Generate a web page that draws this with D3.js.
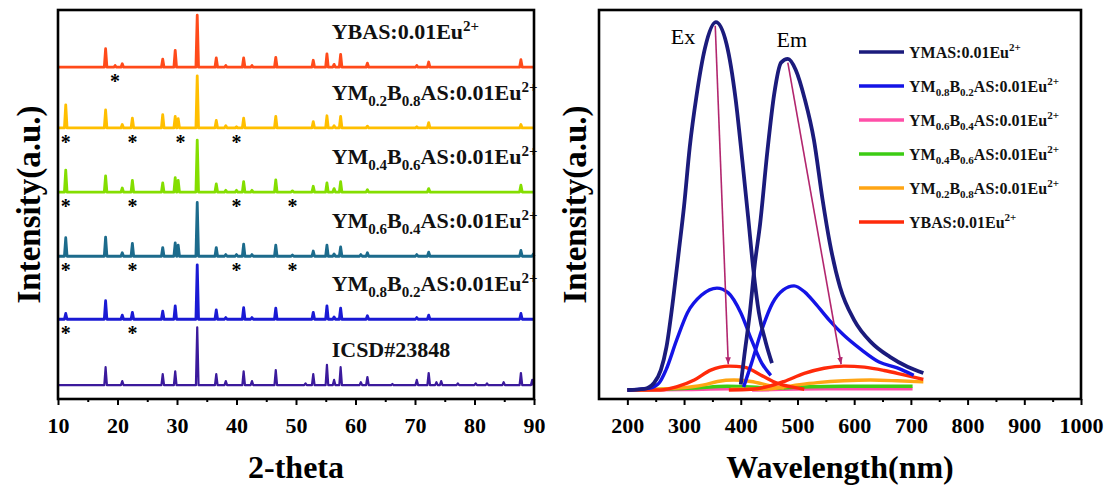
<!DOCTYPE html>
<html>
<head>
<meta charset="utf-8">
<script src="https://cdn.jsdelivr.net/npm/d3@7"></script>
<style>
  body { margin: 0; background: #fff; }
  svg { font-family: "Times New Roman", "Liberation Serif", serif; font-weight: bold; }
</style>
</head>
<body>
<div id="chart"></div>
<script>
// ---------- XRD peaks: [2-theta, relative intensity] ----------
const icsdPeaks = [[18.0,31],[20.8,7],[27.6,19],[29.7,24],[33.4,100],[36.6,19],[38.2,7],[41.2,24],[42.6,7],[46.6,26],[51.6,3],[52.9,19],[55.2,35],[56.4,9],[57.5,31],[60.9,5],[62.0,14],[66.2,2],[70.3,9],[72.3,21],[73.6,5],[74.4,7],[77.2,3],[80.2,3],[82.1,3],[84.9,5],[87.8,21],[89.7,9]];
const ym08Peaks = [[11.3,10],[18.0,32],[20.8,7],[22.5,12],[27.6,14],[29.7,23],[33.4,94],[36.6,16],[38.2,3],[41.2,20],[42.6,3],[46.6,19],[52.9,12],[55.2,23],[56.4,4],[57.5,19],[62.0,6],[70.3,3],[72.3,7],[87.8,10]];
const ym06Peaks = [[11.3,32],[18.0,33],[20.8,6],[22.5,22],[27.6,15],[29.7,23],[30.2,19],[33.4,93],[36.6,15],[38.2,3],[40.0,3],[41.2,21],[42.6,3],[46.6,19],[49.4,2],[52.9,9],[55.2,19],[56.4,4],[57.5,16],[60.9,3],[62.0,6],[70.3,3],[72.3,7],[87.8,10],[89.9,4]];
const ym04Peaks = [[11.3,38],[18.0,28],[20.8,7],[22.5,20],[27.6,16],[29.7,25],[30.2,20],[33.4,90],[36.6,14],[38.2,3],[40.0,3],[41.2,18],[42.6,3],[46.6,21],[49.4,2],[52.9,10],[55.2,16],[56.4,6],[57.5,18],[62.0,4],[72.3,6],[87.8,12]];
const ym02Peaks = [[11.3,40],[18.0,31],[20.8,6],[22.5,17],[27.6,23],[29.7,20],[30.2,16],[33.4,90],[36.6,13],[38.2,4],[40.0,2],[41.2,17],[46.6,20],[52.9,11],[55.2,21],[56.4,4],[57.5,20],[62.0,3],[70.3,2],[72.3,9],[87.8,6]];
const ybasPeaks = [[18.0,32],[19.6,3],[20.8,6],[27.6,14],[29.7,29],[33.4,90],[36.6,16],[38.2,3],[41.2,16],[42.6,3],[46.6,17],[52.9,12],[55.2,23],[56.4,5],[57.5,22],[62.0,7],[70.3,3],[72.3,9],[87.8,13]];

// impurity marks (*) per pattern
const icsdStars = [];
const ym08Stars = [11.3, 22.5];
const ym06Stars = [11.3, 22.5, 40.0, 49.4];
const ym04Stars = [11.3, 22.5, 40.0, 49.4];
const ym02Stars = [11.3, 22.5, 30.6, 40.0];
const ybasStars = [19.6];

// stacking offsets, bottom to top
const xrdOffsets = [0, 114, 223, 334, 445, 550];

const xrdLabels = [
  [["ICSD#23848"]],
  [["YM"],["0.8","sub"],["B"],["0.2","sub"],["AS:0.01Eu"],["2+","sup"]],
  [["YM"],["0.6","sub"],["B"],["0.4","sub"],["AS:0.01Eu"],["2+","sup"]],
  [["YM"],["0.4","sub"],["B"],["0.6","sub"],["AS:0.01Eu"],["2+","sup"]],
  [["YM"],["0.2","sub"],["B"],["0.8","sub"],["AS:0.01Eu"],["2+","sup"]],
  [["YBAS:0.01Eu"],["2+","sup"]]
];
const xrdColors = ["#3b1a9c", "#1a1ad4", "#1c6b8c", "#84de00", "#ffbf00", "#ff4a1a"];

// ---------- PL spectra: [wavelength nm, intensity] ----------
const ymasEx = [[200,0],[230,0.3],[247,1.9],[259,5.4],[269,11.7],[281,25],[291,38],[300,50],[310,66],[322,80],[337,93],[356,100],[375,94],[391,79],[403,62],[413,47],[422,33],[432,21],[444,13],[455,7.3]];
const ymasEm = [[400,1.5],[406,9],[416,21],[425,34.5],[434,45],[447,65],[459,80.5],[471,89],[483,90],[497,87],[513,79],[529,68],[544,52],[557,40],[575,28],[600,19],[631,12.8],[663,9],[694,6.3],[722,4.6]];
const ym08Ex = [[200,0],[240,0.5],[256,1.9],[268,5.4],[287,13.6],[306,21],[331,25.8],[358,27.7],[378,26.4],[400,21],[419,13.6],[437,7.3],[453,4]];
const ym08Em = [[405,0.8],[419,7.3],[437,16.3],[456,23.6],[475,27.2],[494,28.3],[513,26.6],[531,23.6],[556,19],[581,15],[613,10.9],[644,7.6],[676,6],[705,4]];
const ym06Ex = [[200,0],[300,0.1],[380,0.3],[450,0.1]];
const ym06Em = [[420,0],[550,0.3],[703,0.3]];
const ym04Ex = [[200,0],[318,0.5],[376,1.0],[418,0.8],[453,0.4]];
const ym04Em = [[406,0.2],[465,0.5],[524,0.9],[582,1.0],[703,1.0]];
const ym02Ex = [[200,0],[288,0.5],[335,1.4],[359,2.3],[388,2.7],[418,2.3],[453,1.1],[476,0.5]];
const ym02Em = [[382,0.2],[447,0.3],[500,1.4],[535,2.0],[582,2.5],[629,2.7],[676,2.5],[722,2.2]];
const ybasEx = [[200,0],[259,0],[288,0.9],[318,2.7],[347,5.4],[379,6.5],[406,6.2],[435,4.1],[465,1.8],[494,0.7],[512,0.2]];
const ybasEm = [[379,0],[418,0.2],[447,0.9],[476,2.3],[512,4.5],[547,5.9],[582,6.5],[618,6.2],[653,5.3],[688,4.1],[722,2.9]];

const exArrow = [[355,99],[378,7]];
const emArrow = [[483,89],[577,7]];

const plLabels = [
  [["YMAS:0.01Eu"],["2+","sup"]],
  [["YM"],["0.8","sub"],["B"],["0.2","sub"],["AS:0.01Eu"],["2+","sup"]],
  [["YM"],["0.6","sub"],["B"],["0.4","sub"],["AS:0.01Eu"],["2+","sup"]],
  [["YM"],["0.4","sub"],["B"],["0.6","sub"],["AS:0.01Eu"],["2+","sup"]],
  [["YM"],["0.2","sub"],["B"],["0.8","sub"],["AS:0.01Eu"],["2+","sup"]],
  [["YBAS:0.01Eu"],["2+","sup"]]
];
const plColors = ["#1b1b7c", "#1414e6", "#ff4fa8", "#3ccc14", "#ffa514", "#ff2a0a"];

// ---------- helpers ----------
function richText(sel, segs, size, small, subDy, supDy) {
  let cur = 0;
  segs.forEach(s => {
    const kind = s[1] || "";
    const shift = kind === "sub" ? subDy : kind === "sup" ? supDy : 0;
    sel.append("tspan")
      .attr("dy", shift - cur)
      .style("font-size", (kind ? small : size) + "px")
      .text(s[0]);
    cur = shift;
  });
}

// turn each peak into a narrow spike on a flat baseline
function spikes(peaks) {
  const hw = 0.22;
  const pts = [[10, 0]];
  peaks.forEach(p => { pts.push([p[0] - hw, 0], [p[0], p[1]], [p[0] + hw, 0]); });
  pts.push([90, 0]);
  return pts.sort((a, b) => a[0] - b[0]);
}

const svg = d3.select("#chart").append("svg")
  .attr("width", 1111)
  .attr("height", 488);

// ================= Left panel: XRD =================
const L = { x0: 58, x1: 534, y0: 10, y1: 399 };
const xL = d3.scaleLinear().domain([10, 90]).range([L.x0, L.x1]);
const yL = d3.scaleLinear().domain([-24, 649]).range([L.y1, L.y0]);

const xrdPeaks = [icsdPeaks, ym08Peaks, ym06Peaks, ym04Peaks, ym02Peaks, ybasPeaks];
const xrdStars = [icsdStars, ym08Stars, ym06Stars, ym04Stars, ym02Stars, ybasStars];

xrdPeaks.forEach((peaks, i) => {
  const off = xrdOffsets[i];
  const line = d3.line()
    .x(d => xL(d[0]))
    .y(d => yL(d[1] + off));
  svg.append("path")
    .datum(spikes(peaks))
    .attr("fill", "none")
    .attr("stroke", xrdColors[i])
    .attr("stroke-width", i === 0 ? 2.2 : 2.8)
    .attr("stroke-linejoin", "round")
    .attr("d", line);

  svg.selectAll(null)
    .data(xrdStars[i])
    .enter().append("text")
    .attr("x", d => xL(d))
    .attr("y", yL(off) + 21)
    .attr("text-anchor", "middle")
    .style("font-size", "20px")
    .text("*");

  const t = svg.append("text")
    .attr("x", xL(56))
    .attr("y", yL(off) - 28)
    .attr("fill", "#111");
  richText(t, xrdLabels[i], 22, 15, 6, -8);
});

const axL = svg.append("g")
  .attr("transform", `translate(0,${L.y1})`)
  .call(d3.axisBottom(xL).tickValues(d3.range(10, 91, 10)).tickSize(6).tickPadding(12).tickFormat(d3.format("d")));
const axLm = svg.append("g")
  .attr("transform", `translate(0,${L.y1})`)
  .call(d3.axisBottom(xL).tickValues(d3.range(15, 90, 10)).tickSize(3).tickFormat(""));

svg.append("rect")
  .attr("x", L.x0).attr("y", L.y0)
  .attr("width", L.x1 - L.x0).attr("height", L.y1 - L.y0)
  .attr("fill", "none").attr("stroke", "#000").attr("stroke-width", 2.6);

svg.append("text")
  .attr("x", (L.x0 + L.x1) / 2)
  .attr("y", 478)
  .attr("text-anchor", "middle")
  .style("font-size", "32px")
  .text("2-theta");
svg.append("text")
  .attr("transform", `translate(40,${(L.y0 + L.y1) / 2}) rotate(-90)`)
  .attr("text-anchor", "middle")
  .style("font-size", "33px")
  .text("Intensity(a.u.)");

// ================= Right panel: PL =================
const R = { x0: 599, x1: 1081, y0: 10, y1: 399 };
const xR = d3.scaleLinear().domain([150, 1000]).range([R.x0, R.x1]);
const yR = d3.scaleLinear().domain([-2.45, 103.3]).range([R.y1, R.y0]);

const spectra = [
  [ymasEx, ymasEm], [ym08Ex, ym08Em], [ym06Ex, ym06Em],
  [ym04Ex, ym04Em], [ym02Ex, ym02Em], [ybasEx, ybasEm]
];
const plLine = d3.line()
  .x(d => xR(d[0]))
  .y(d => yR(d[1]))
  .curve(d3.curveMonotoneX);

// draw from the weakest upward so the two strong samples stay readable
[2, 3, 4, 5, 1, 0].forEach(i => {
  spectra[i].forEach(s => {
    svg.append("path")
      .datum(s)
      .attr("fill", "none")
      .attr("stroke", plColors[i])
      .attr("stroke-width", i === 0 ? 3.8 : 3.4)
      .attr("d", plLine);
  });
});

// arrows
svg.append("defs").append("marker")
  .attr("id", "head")
  .attr("viewBox", "0 0 10 10")
  .attr("refX", 10).attr("refY", 5)
  .attr("markerWidth", 7).attr("markerHeight", 7)
  .attr("markerUnits", "userSpaceOnUse")
  .attr("orient", "auto")
  .append("path").attr("d", "M0,1L10,5L0,9Z").attr("fill", "#b2266e");
[exArrow, emArrow].forEach(a => {
  svg.append("line")
    .attr("x1", xR(a[0][0])).attr("y1", yR(a[0][1]))
    .attr("x2", xR(a[1][0])).attr("y2", yR(a[1][1]))
    .attr("stroke", "#b2266e").attr("stroke-width", 1.6)
    .attr("marker-end", "url(#head)");
});

svg.append("text")
  .attr("x", xR(298)).attr("y", yR(94))
  .attr("text-anchor", "middle")
  .style("font-size", "22px").style("font-weight", "normal")
  .text("Ex");
svg.append("text")
  .attr("x", xR(490)).attr("y", yR(93.3))
  .attr("text-anchor", "middle")
  .style("font-size", "22px").style("font-weight", "normal")
  .text("Em");

// legend
plLabels.forEach((lab, i) => {
  const y = 52 + i * 34;
  svg.append("line")
    .attr("x1", 859).attr("x2", 904)
    .attr("y1", y).attr("y2", y)
    .attr("stroke", plColors[i]).attr("stroke-width", 3.4);
  const t = svg.append("text")
    .attr("x", 909).attr("y", y + 6)
    .attr("fill", "#111");
  richText(t, lab, 16, 11, 4, -7);
});

const axR = svg.append("g")
  .attr("transform", `translate(0,${R.y1})`)
  .call(d3.axisBottom(xR).tickValues(d3.range(200, 1001, 100)).tickSize(6).tickPadding(12).tickFormat(d3.format("d")));
const axRm = svg.append("g")
  .attr("transform", `translate(0,${R.y1})`)
  .call(d3.axisBottom(xR).tickValues(d3.range(250, 1000, 100)).tickSize(3).tickFormat(""));

svg.append("rect")
  .attr("x", R.x0).attr("y", R.y0)
  .attr("width", R.x1 - R.x0).attr("height", R.y1 - R.y0)
  .attr("fill", "none").attr("stroke", "#000").attr("stroke-width", 2.6);

svg.append("text")
  .attr("x", (R.x0 + R.x1) / 2)
  .attr("y", 478)
  .attr("text-anchor", "middle")
  .style("font-size", "32px")
  .text("Wavelength(nm)");
svg.append("text")
  .attr("transform", `translate(586,${(R.y0 + R.y1) / 2}) rotate(-90)`)
  .attr("text-anchor", "middle")
  .style("font-size", "33px")
  .text("Intensity(a.u.)");

// axis styling
[axL, axLm, axR, axRm].forEach(g => {
  g.select(".domain").remove();
  g.selectAll(".tick line").attr("stroke", "#000").attr("stroke-width", 2);
  g.selectAll(".tick text")
    .attr("fill", "#000")
    .style("font-size", "22px")
    .style("font-family", "\"Times New Roman\", \"Liberation Serif\", serif")
    .style("font-weight", "bold");
});
</script>
</body>
</html>
